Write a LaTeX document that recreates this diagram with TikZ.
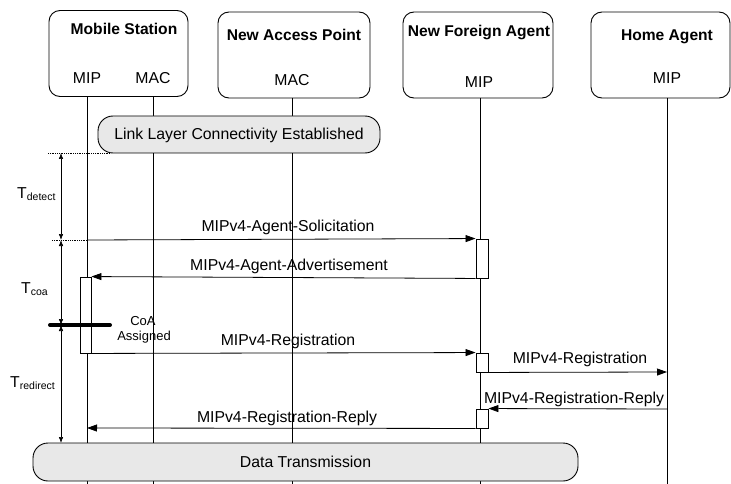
\documentclass[tikz,border=0pt]{standalone}
\usepackage{fontspec}
\setmainfont{Liberation Sans}
\usetikzlibrary{arrows.meta}
\begin{document}
\begin{tikzpicture}[x=1pt,y=-1pt,
  every node/.style={inner sep=0pt, font=\fontsize{15.8}{19}\selectfont},
  hdr/.style={draw, rounded corners=11pt, line width=0.9pt, minimum height=86pt},
  ttl/.style={anchor=base, font=\fontsize{15.6}{19}\selectfont\bfseries},
  lbl/.style={anchor=base},
  life/.style={line width=1pt},
  band/.style={draw, fill=black!9, rounded corners=15pt, line width=0.9pt},
  act/.style={draw, fill=white, line width=0.9pt, minimum width=12pt},
  msg/.style={line width=0.8pt, -{Triangle[length=10pt,width=7pt]}},
  tarrow/.style={line width=0.6pt, {Latex[length=6pt,width=4.5pt]}-{Latex[length=6pt,width=4.5pt]}},
  dots/.style={densely dotted, line width=0.8pt}
]
\useasboundingbox (0,0) rectangle (731,484);
% lifelines
\coordinate (l1t) at (87,97);  \coordinate (l1b) at (87,484);
\coordinate (l2t) at (153,97); \coordinate (l2b) at (153,484);
\coordinate (l3t) at (292,98); \coordinate (l3b) at (292,484);
\coordinate (l4t) at (480,98); \coordinate (l4b) at (480,484);
\coordinate (l5t) at (667,98); \coordinate (l5b) at (667,484);
\draw[life] (l1t) -- (l1b);
\draw[life] (l2t) -- (l2b);
\draw[life] (l3t) -- (l3b);
\draw[life] (l4t) -- (l4b);
\draw[life] (l5t) -- (l5b);
% header boxes
\node[hdr, minimum width=139pt] (ms)  at (118.5,53.5) {};
\node[hdr, minimum width=152pt] (nap) at (294,55) {};
\node[hdr, minimum width=150pt] (nfa) at (478,55) {};
\node[hdr, minimum width=139pt] (ha)  at (660.5,55) {};
\node[ttl] (mst) at (124,35) {Mobile Station};
\node[lbl] (msmip) at (87,84) {MIP};
\node[lbl] (msmac) at (153,84) {MAC};
\node[ttl] (napt) at (294,41) {New Access Point};
\node[lbl] (napmac) at (292,86) {MAC};
\node[ttl] (nfat) at (479,37) {New Foreign Agent};
\node[lbl] (nfamip) at (479,88) {MIP};
\node[ttl] (hat) at (667,41) {Home Agent};
\node[lbl] (hamip) at (667,84) {MIP};
% link layer band
\node[band, minimum width=282pt, minimum height=37pt] (llc) at (239,134.5) {};
\node[lbl] (llct) at (239,140) {Link Layer Connectivity Established};
% data transmission band
\node[band, minimum width=545pt, minimum height=38pt] (dt) at (305.5,462) {};
\node[lbl] (dtt) at (305.5,467) {Data Transmission};
% activation boxes
\node[act, minimum height=39pt] (a1) at (482,258.5) {};
\node[act, minimum width=11pt, minimum height=76pt] (m1) at (85.5,315) {};
\node[act, minimum height=19pt] (a2) at (482,362.5) {};
\node[act, minimum height=19pt] (a3) at (482,418.5) {};
% messages
\coordinate (s1) at (87,240);
\draw[msg] (s1) -- (a1.north west);
\node[lbl] (m1l) at (288,231) {MIPv4-Agent-Solicitation};
\draw[msg] (a1.south west) -- (m1.north east);
\node[lbl] (m2l) at (289,270) {MIPv4-Agent-Advertisement};
\draw[msg] (m1.south east) -- (a2.north west);
\node[lbl] (m3l) at (288,345) {MIPv4-Registration};
\coordinate (h1) at (667,372);
\draw[msg] (a2.south east) -- (h1);
\node[lbl] (m4l) at (580,363) {MIPv4-Registration};
\coordinate (h2) at (667,409);
\draw[msg] (h2) -- (a3.north east);
\node[lbl] (m5l) at (574,403) {MIPv4-Registration-Reply};
\coordinate (r1) at (87,428);
\draw[msg] (a3.south west) -- (r1);
\node[lbl] (m6l) at (287,422) {MIPv4-Registration-Reply};
% dotted guides
\coordinate (d1a) at (48,153); \coordinate (d1b) at (110,153);
\draw[dots] (d1a) -- (d1b);
\coordinate (d2a) at (52,240);
\draw[dots] (d2a) -- (s1);
% timing arrows
\coordinate (t0) at (61,153); \coordinate (t1) at (61,240);
\coordinate (t2) at (61,325); \coordinate (t3) at (61,443);
\draw[tarrow] (t0) -- (t1);
\draw[tarrow] (t1) -- (t2);
\draw[tarrow] (t2) -- (t3);
\node[anchor=base west] (td) at (17,198) {T\raisebox{-2pt}{\fontsize{10.5}{12}\selectfont detect}};
\node[anchor=base west] (tc) at (21,293) {T\raisebox{-2pt}{\fontsize{10.5}{12}\selectfont coa}};
\node[anchor=base west] (tr) at (10,387) {T\raisebox{-2pt}{\fontsize{10.5}{12}\selectfont redirect}};
% CoA assigned
\coordinate (b1) at (50,325); \coordinate (b2) at (110,325);
\draw[line width=4pt, line cap=round] (b1) -- (b2);
\node[anchor=base, font=\fontsize{13}{15}\selectfont] (coa) at (143,325) {CoA};
\node[anchor=base, font=\fontsize{13}{15}\selectfont] (asg) at (144,340) {Assigned};
\end{tikzpicture}
\end{document}
